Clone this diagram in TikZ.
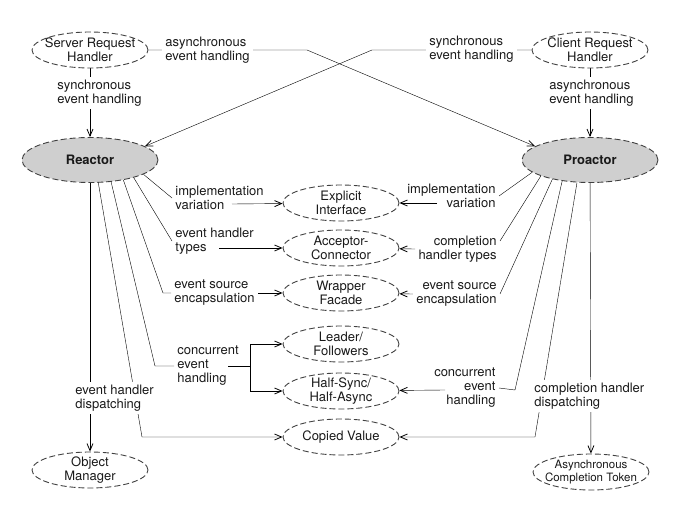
\documentclass[tikz,border=0pt]{standalone}
\usepackage{fontspec}
\setmainfont{TeX Gyre Heros}
\usetikzlibrary{shapes.geometric,arrows.meta,backgrounds}
\begin{document}
\begin{tikzpicture}[x=1pt, y=-1pt, line width=0.9pt, draw=black!75, text=black!90,
    font=\fontsize{13}{14}\selectfont,
    >={Straight Barb[length=7pt,width=6pt,line width=0.8pt]},
    pat/.style={ellipse, draw, dash pattern=on 6pt off 3pt, align=center,
        minimum width=116, minimum height=36, inner xsep=-20pt, inner ysep=-6pt},
    main/.style={pat, fill=black!19, minimum width=136, minimum height=45,
        font=\fontsize{13}{14}\selectfont\bfseries},
    lbl/.style={inner sep=3pt, align=left},
    cover/.style={lbl, fill=white}]
    \useasboundingbox (0,0) rectangle (697,508);
    \node[pat] (srh) at (90,50) {Server Request\\Handler};
    \node[pat] (crh) at (590,50) {Client Request\\Handler};
    \node[main] (reactor) at (90,160) {Reactor};
    \node[main] (proactor) at (590,160) {Proactor};
    \node[pat] (ei) at (341,203) {Explicit\\Interface};
    \node[pat] (ac) at (341,248) {Acceptor-\\Connector};
    \node[pat] (wf) at (341,293) {Wrapper\\Facade};
    \node[pat] (lf) at (341,344) {Leader/\\Followers};
    \node[pat] (hs) at (341,391) {Half-Sync/\\Half-Async};
    \node[pat] (cv) at (341,437) {Copied Value};
    \node[pat] (om) at (90,470) {Object\\Manager};
    \node[pat, font=\fontsize{11.5}{12.5}\selectfont] (act) at (591,472) {Asynchronous\\Completion Token};
    \node[cover, anchor=west] (asyncTop) at (162,50) {asynchronous\\event handling};
    \node[cover, anchor=west] (syncTop) at (426,49) {synchronous\\event handling};
    \node[cover, anchor=west] (syncL) at (54,93) {synchronous\\event handling};
    \node[cover, anchor=west] (asyncR) at (546,93) {asynchronous\\event handling};
    \node[lbl, anchor=west] (implL) at (172,198) {implementation\\variation};
    \node[lbl, anchor=west] (typesL) at (172,241) {event handler\\types};
    \node[lbl, anchor=west] (srcL) at (171,293) {event source\\encapsulation};
    \node[lbl, anchor=west] (concL) at (174,366) {concurrent\\event\\handling};
    \node[cover, anchor=west] (dispL) at (72,398) {event handler\\dispatching};
    \node[lbl, align=right, anchor=east] (implR) at (499,196) {implementation\\variation};
    \node[lbl, align=right, anchor=east] (typesR) at (500,249) {completion\\handler types};
    \node[lbl, align=right, anchor=east] (srcR) at (500,294) {event source\\encapsulation};
    \node[lbl, align=right, anchor=east] (concR) at (499,388) {concurrent\\event\\handling};
    \node[cover, anchor=west] (dispR) at (531,396) {completion handler\\dispatching};
    \begin{scope}[on background layer]
        \draw [->] (srh) -- (reactor);
        \draw [->] (crh) -- (proactor);
        \draw [->] (srh) -- (307,50) -- (proactor.166);
        \draw [->] (crh) -- (372,50) -- (reactor.14);
        \draw (reactor.-15) -- (implL.west);
        \draw [->] (232,204) -- (ei);
        \draw (reactor.-22) -- (typesL.west);
        \draw [->] (219,248) -- (ac);
        \draw (reactor.-31) -- (163,293) -- (srcL.west);
        \draw [->] (srcL.east) -- (wf);
        \draw (reactor.-46) -- (155,366) -- (concL.west);
        \draw (228,366) -- (250,366);
        \draw [->] (250,366) |- (lf);
        \draw [->] (250,366) |- (hs);
        \draw [->] (reactor.-70) -- (142,437) -- (cv);
        \draw [->] (reactor) -- (om);
        \draw (proactor.-168) -- (implR.east);
        \draw [->] (437,203) -- (ei);
        \draw (proactor.-162) -- ([yshift=8pt]typesR.east);
        \draw [->] (typesR.west) -- (ac);
        \draw (proactor.-153) -- (srcR.east);
        \draw [->] (srcR.west) -- (wf);
        \draw (proactor.-143) -- (515,390) -- (concR.east);
        \draw [->] (445,390) -- (hs);
        \draw [->] (proactor.-120) -- (535,437) -- (cv);
        \draw [->] (proactor) -- (act);
    \end{scope}
\end{tikzpicture}
\end{document}
